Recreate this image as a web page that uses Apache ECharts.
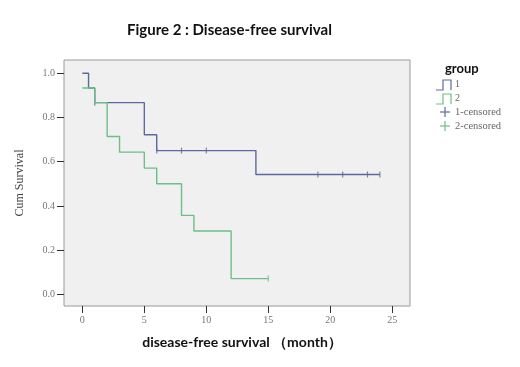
<!DOCTYPE html>
<html>
<head>
<meta charset="utf-8">
<script src="https://cdn.jsdelivr.net/npm/echarts@6/dist/echarts.min.js"></script>
<style>
html, body { margin: 0; padding: 0; background: #fff; }
#main { width: 520px; height: 367px; }
</style>
</head>
<body>
<div id="main"></div>
<script>
// 数据：Kaplan-Meier 曲线 [月, 累积生存率]
var group1 = [[0, 1.0], [0.5, 0.933], [1, 0.867], [5, 0.722], [6, 0.650], [14, 0.542], [24, 0.542]];
var group2 = [[0, 0.933], [1, 0.867], [2, 0.714], [3, 0.643], [5, 0.571], [6, 0.500], [8, 0.357], [9, 0.286], [12, 0.071], [15, 0.071]];
var censored1 = [[1, 0.867], [6, 0.650], [8, 0.650], [10, 0.650], [19, 0.542], [21, 0.542], [23, 0.542], [24, 0.542]];
var censored2 = [[15, 0.071]];
var xTicks = [0, 5, 10, 15, 20, 25];
var yTicks = [0, 0.2, 0.4, 0.6, 0.8, 1.0];

var blue = '#5b6a9e';
var green = '#6cbf86';

var myChart = echarts.init(document.getElementById('main'));

var option = {
	backgroundColor: '#fff',
	animation: false,
	title: {
		text: 'Figure 2 : Disease-free survival',
		left: 122,
		top: 18,
		textStyle: { fontFamily: 'Lato', fontWeight: 'bold', fontSize: 15, color: '#111' }
	},
	grid: {
		left: 64, top: 60, width: 346, height: 246,
		show: true,
		backgroundColor: '#f0f0f0',
		borderColor: '#9a9a9a',
		borderWidth: 1
	},
	xAxis: {
		type: 'value',
		min: -1.48,
		max: 26.43,
		name: 'disease-free survival （month）',
		nameLocation: 'middle',
		nameGap: 29,
		nameTextStyle: { fontFamily: 'Lato', fontWeight: 'bold', fontSize: 14, color: '#111', padding: [0, 0, 0, 10] },
		axisLine: { show: false, onZero: false },
		splitLine: { show: false },
		axisTick: { show: true, customValues: xTicks, length: 7, lineStyle: { color: '#333' } },
		axisLabel: { customValues: xTicks, margin: 9, fontFamily: 'Liberation Serif', fontSize: 10, color: '#777' }
	},
	yAxis: {
		type: 'value',
		min: -0.053,
		max: 1.06,
		name: 'Cum Survival',
		nameLocation: 'middle',
		nameGap: 38,
		nameTextStyle: { fontFamily: 'Liberation Serif', fontSize: 12, color: '#444' },
		axisLine: { show: false, onZero: false },
		splitLine: { show: false },
		axisTick: { show: true, customValues: yTicks, length: 7, lineStyle: { color: '#333' } },
		axisLabel: {
			customValues: yTicks, margin: 9, fontFamily: 'Liberation Serif', fontSize: 10, color: '#777',
			formatter: function (v) { return v.toFixed(1); }
		}
	},
	series: [{
		name: '1',
		type: 'line',
		step: 'end',
		data: group1,
		showSymbol: false,
		lineStyle: { color: blue, width: 1.4 }
	}, {
		name: '2',
		type: 'line',
		step: 'end',
		data: group2,
		showSymbol: false,
		lineStyle: { color: green, width: 1.4 }
	}, {
		name: '1-censored',
		type: 'scatter',
		data: censored1,
		symbol: 'rect',
		symbolSize: [1.2, 6],
		itemStyle: { color: blue }
	}, {
		name: '2-censored',
		type: 'scatter',
		data: censored2,
		symbol: 'rect',
		symbolSize: [1.2, 6],
		itemStyle: { color: green }
	}],
	graphic: [
		{ type: 'text', left: 445, top: 62, style: { text: 'group', fontFamily: 'Lato', fontWeight: 'bold', fontSize: 13, fill: '#111' } },
		{ type: 'polyline', shape: { points: [[436, 90], [443, 90], [443, 80], [451, 80], [451, 90]] }, style: { stroke: blue, lineWidth: 1.2, fill: null } },
		{ type: 'text', left: 455, top: 79, style: { text: '1', fontFamily: 'Liberation Serif', fontSize: 10, fill: '#666' } },
		{ type: 'polyline', shape: { points: [[436, 104], [443, 104], [443, 94], [451, 94], [451, 104]] }, style: { stroke: green, lineWidth: 1.2, fill: null } },
		{ type: 'text', left: 455, top: 93, style: { text: '2', fontFamily: 'Liberation Serif', fontSize: 10, fill: '#666' } },
		{ type: 'line', shape: { x1: 440, y1: 112, x2: 450, y2: 112 }, style: { stroke: blue, lineWidth: 1.2 } },
		{ type: 'line', shape: { x1: 445, y1: 107, x2: 445, y2: 117 }, style: { stroke: blue, lineWidth: 1.2 } },
		{ type: 'text', left: 455, top: 107, style: { text: '1-censored', fontFamily: 'Liberation Serif', fontSize: 10.5, fill: '#666' } },
		{ type: 'line', shape: { x1: 440, y1: 126, x2: 450, y2: 126 }, style: { stroke: green, lineWidth: 1.2 } },
		{ type: 'line', shape: { x1: 445, y1: 121, x2: 445, y2: 131 }, style: { stroke: green, lineWidth: 1.2 } },
		{ type: 'text', left: 455, top: 121, style: { text: '2-censored', fontFamily: 'Liberation Serif', fontSize: 10.5, fill: '#666' } }
	]
};

myChart.setOption(option);
</script>
</body>
</html>
